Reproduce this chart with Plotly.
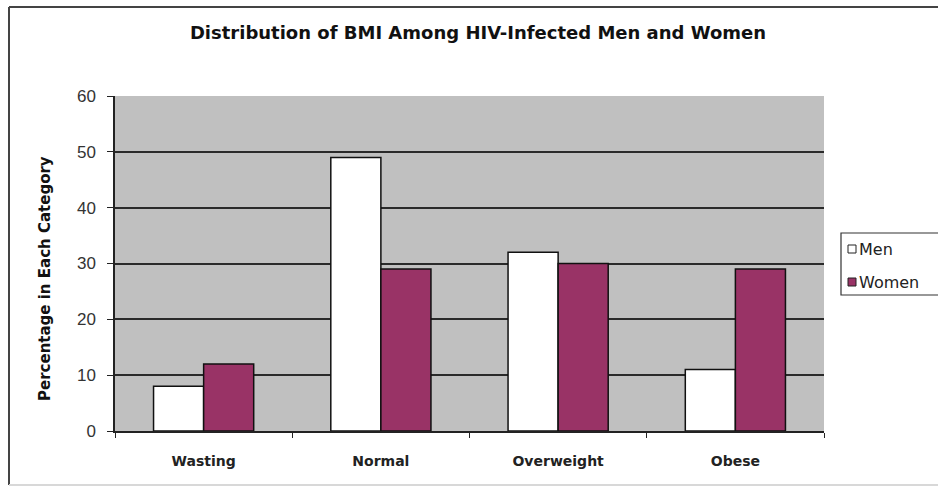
import plotly.graph_objects as go

categories = ["Wasting", "Normal", "Overweight", "Obese"]
men = [8, 49, 32, 11]
women = [12, 29, 30, 29]
y_ticks = [0, 10, 20, 30, 40, 50, 60]
series_names = ["Men", "Women"]
series_colors = ["#FFFFFF", "#993366"]

# plot-area geometry in pixels, used to place the hand-drawn legend box
W, H = 938, 489
L, R, T, B = 115, 114, 96, 58
PW, PH = W - L - R, H - T - B


def px_x(x):
    return (x - L) / PW


def px_y(y):
    return (H - B - y) / PH


fig = go.Figure()
for name, vals, col in zip(series_names, [men, women], series_colors):
    fig.add_trace(go.Bar(
        name=name, x=categories, y=vals,
        marker=dict(color=col, line=dict(color="#111111", width=1.5)),
        showlegend=False,
    ))

# legend: frame, swatches and labels
shapes = [
    dict(type="rect", xref="paper", yref="paper",
         x0=px_x(841), x1=px_x(950), y0=px_y(233), y1=px_y(295),
         line=dict(color="#333333", width=1.2), fillcolor="#FFFFFF"),
]
annotations = []
for i, (name, col) in enumerate(zip(series_names, series_colors)):
    cy = 249 + i * 33
    shapes.append(dict(type="rect", xref="paper", yref="paper",
                       x0=px_x(848), x1=px_x(856), y0=px_y(cy - 4), y1=px_y(cy + 4),
                       line=dict(color="#222222", width=1), fillcolor=col))
    annotations.append(dict(text=name, xref="paper", yref="paper",
                            x=px_x(857), y=px_y(cy), xanchor="left", yanchor="middle",
                            showarrow=False,
                            font=dict(family="DejaVu Sans", size=16, color="#222222")))

# vertical axis title
annotations.append(dict(text="<b>Percentage in Each Category</b>",
                        xref="paper", yref="paper", x=px_x(45), y=px_y(279),
                        xanchor="center", yanchor="middle", textangle=-90,
                        showarrow=False,
                        font=dict(family="DejaVu Sans", size=15, color="#111111")))

# outer chart frame
shapes += [
    dict(type="line", xref="paper", yref="paper",
         x0=px_x(9), x1=px_x(950), y0=px_y(7), y1=px_y(7),
         line=dict(color="#444444", width=2)),
    dict(type="line", xref="paper", yref="paper",
         x0=px_x(9), x1=px_x(9), y0=px_y(7), y1=px_y(485),
         line=dict(color="#444444", width=2)),
    dict(type="line", xref="paper", yref="paper",
         x0=px_x(9), x1=px_x(950), y0=px_y(485), y1=px_y(485),
         line=dict(color="#D8D8D8", width=2)),
]

fig.update_layout(
    width=W, height=H,
    margin=dict(l=L, r=R, t=T, b=B),
    paper_bgcolor="#FFFFFF",
    plot_bgcolor="#C0C0C0",
    barmode="group",
    bargap=0.435,
    bargroupgap=0,
    showlegend=False,
    font=dict(family="Arial, Liberation Sans, sans-serif", color="#222222"),
    title=dict(
        text="<b>Distribution of BMI Among HIV-Infected Men and Women</b>",
        x=(478 - L) / PW, xref="paper", xanchor="center", y=1 - 33 / H, yanchor="middle",
        font=dict(family="DejaVu Sans", size=18, color="#111111"),
    ),
    xaxis=dict(
        showline=True, linecolor="#222222", linewidth=1.5,
        ticks="outside", tickson="boundaries", ticklen=5, tickcolor="#222222",
        tickfont=dict(family="DejaVu Sans", size=14, color="#222222", weight="bold"),
        ticklabelstandoff=16,
        showgrid=False, automargin=False,
    ),
    yaxis=dict(
        range=[0, 60], tickvals=y_ticks,
        showline=True, linecolor="#222222", linewidth=1.5,
        ticks="outside", ticklen=6, tickcolor="#222222",
        tickfont=dict(size=17, color="#333333"),
        ticklabelstandoff=8,
        showgrid=True, gridcolor="#2A2A2A", gridwidth=2,
        zeroline=False, automargin=False,
    ),
    shapes=shapes,
    annotations=annotations,
)

fig.write_html("out.html")
